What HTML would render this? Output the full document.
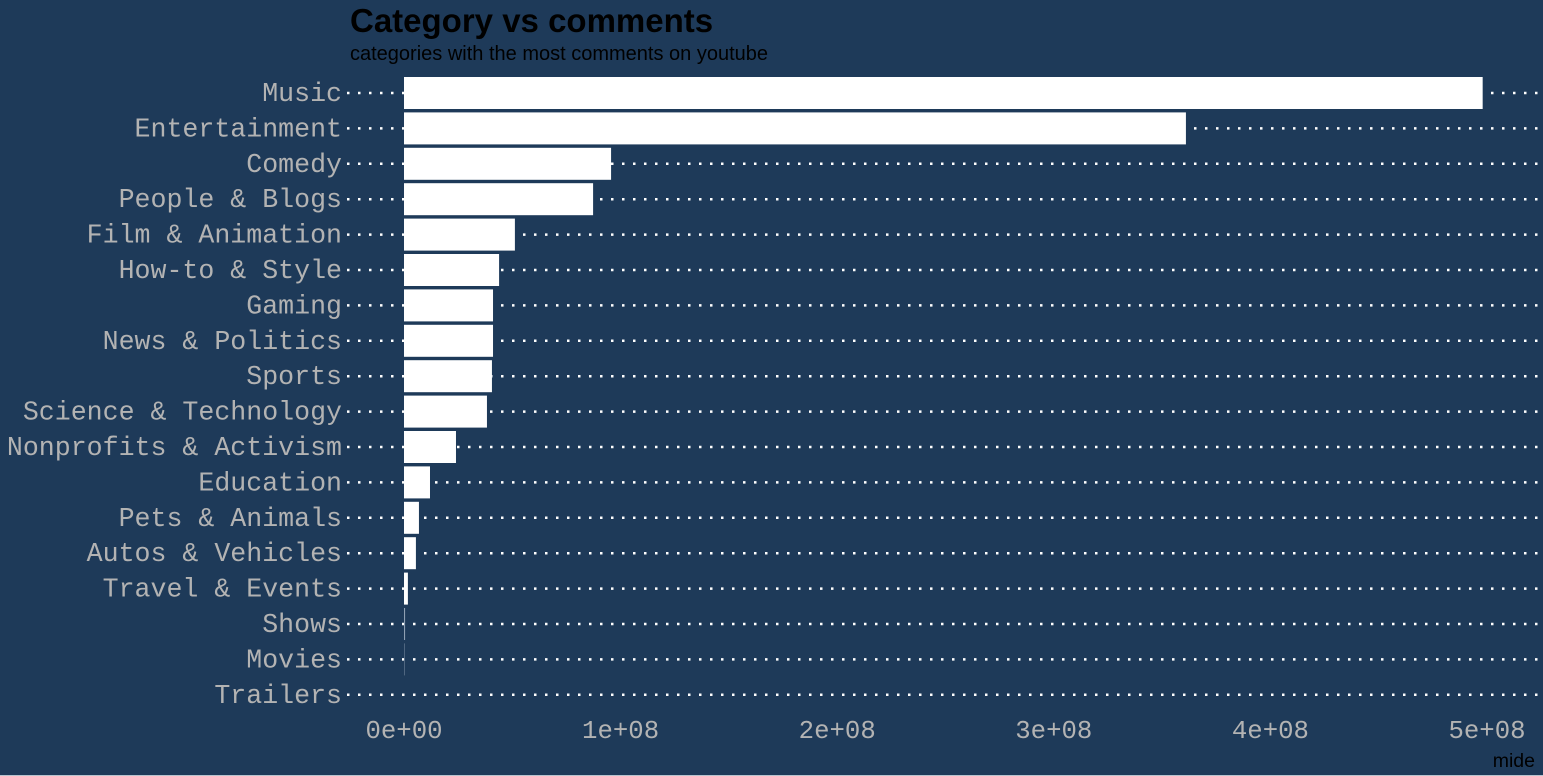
<!DOCTYPE html>
<html><head><meta charset="utf-8"><style>
html,body{margin:0;padding:0;background:#1e3a59;}
svg{display:block;}
</style></head><body>
<svg id="chart" width="1543" height="776" xmlns="http://www.w3.org/2000/svg">
<rect x="0" y="0" width="1543" height="776" fill="#1e3a59"/>
<line x1="0" y1="775.5" x2="1543" y2="775.5" stroke="#b8c4cf" stroke-width="1"/>
<text x="350" y="32" font-family="Liberation Sans, sans-serif" font-weight="bold" font-size="33" fill="#000">Category vs comments</text>
<text x="350" y="60" font-family="Liberation Sans, sans-serif" font-size="20" fill="#000">categories with the most comments on youtube</text>
<text x="1535" y="767" text-anchor="end" font-family="Liberation Sans, sans-serif" font-size="19.5" fill="#000">mide</text>
<g id="grid"></g><g id="bars"></g><g id="ylabels"></g><g id="xlabels"></g>
</svg>
<script>
const categories = ["Music","Entertainment","Comedy","People & Blogs","Film & Animation","How-to & Style","Gaming","News & Politics","Sports","Science & Technology","Nonprofits & Activism","Education","Pets & Animals","Autos & Vehicles","Travel & Events","Shows","Movies","Trailers"];
const comments = [4.98e8,3.61e8,0.956e8,0.873e8,0.512e8,0.439e8,0.411e8,0.411e8,0.406e8,0.383e8,0.24e8,0.12e8,0.069e8,0.055e8,0.018e8,0.005e8,0.002e8,0];
const xTicks = [0,1e8,2e8,3e8,4e8,5e8];
const xTickLabels = ["0e+00","1e+08","2e+08","3e+08","4e+08","5e+08"];

const NS="http://www.w3.org/2000/svg";
const x0=404, pxPer=216.6/1e8;
function xs(v){return x0+v*pxPer;}
function ys(i){return 93+i*35.4;}
function mk(tag,attrs,parent){const e=document.createElementNS(NS,tag);for(const k in attrs)e.setAttribute(k,attrs[k]);document.getElementById(parent).appendChild(e);return e;}

categories.forEach((c,i)=>{
  const y=ys(i);
  const g=mk('line',{x1:347,y1:y,x2:1540,y2:y,stroke:'#ffffff','stroke-width':2.5,'stroke-dasharray':'2.5 8.5'},'grid');
  
  
  const w=Math.max(xs(comments[i])-x0,0);
  const b=mk('rect',{x:x0,y:y-16,width:w,height:32,fill:(w<2?'#8fa0b3':'#ffffff')},'bars');
  
  
  const t=mk('text',{x:342,y:y+8,'text-anchor':'end','font-family':'Liberation Mono, monospace','font-size':26.6,fill:'#b3b3b3'},'ylabels');
  t.textContent=c;
  
  
});
xTicks.forEach((v,i)=>{
  const t=mk('text',{x:xs(v),y:738,'text-anchor':'middle','font-family':'Liberation Mono, monospace','font-size':25.7,fill:'#b3b3b3'},'xlabels');
  t.textContent=xTickLabels[i];
  
  
});
</script>
</body></html>
